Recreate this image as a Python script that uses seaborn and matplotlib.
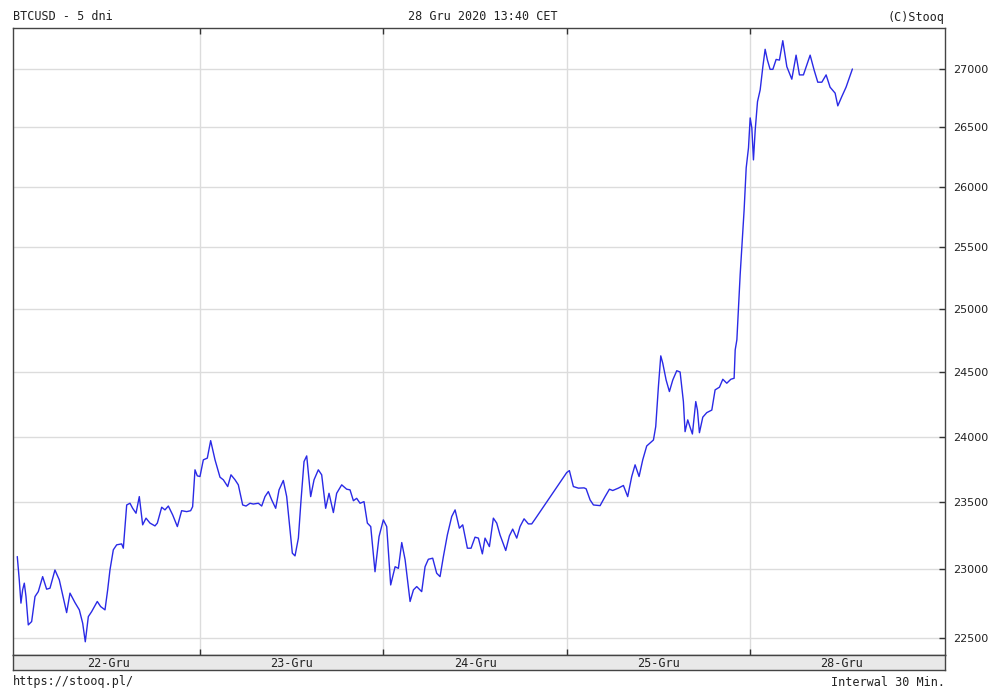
import numpy as np
import pandas as pd
import matplotlib
matplotlib.use("Agg")
import matplotlib.pyplot as plt
import seaborn as sns
from matplotlib.ticker import FixedLocator, FixedFormatter, NullLocator

sns.set_style("white")

# ---- data: hours since 22-Gru 00:00 (trading-day axis), BTCUSD price ----
hours = [
    0.08, 0.34, 0.56, 0.78, 1.00, 1.22, 1.52, 1.96, 2.40, 2.83, 3.40, 3.92, 4.36, 5.01, 5.58,
    6.54, 6.98, 7.63, 8.20, 8.64, 8.98, 9.38, 9.81, 10.55, 10.99, 11.56, 11.91, 12.21, 12.65,
    13.09, 13.74, 13.96, 14.18, 14.40, 14.83, 15.18, 15.62, 16.05, 16.49, 16.93, 17.45, 18.10,
    18.41, 18.98, 19.41, 19.85, 20.42, 21.03, 21.59, 22.25, 22.77, 23.03, 23.34, 23.64, 23.99,
    24.43, 24.95, 25.39, 25.96, 26.61, 27.05, 27.62, 28.05, 28.58, 29.01, 29.58, 30.02, 30.54,
    30.97, 31.63, 32.07, 32.50, 32.94, 33.38, 33.90, 34.34, 34.90, 35.34, 35.78, 36.08, 36.43,
    36.87, 37.22, 37.61, 37.96, 38.48, 38.92, 39.48, 39.92, 40.44, 40.88, 41.45, 41.88, 42.54,
    43.19, 43.63, 44.07, 44.50, 44.94, 45.46, 45.90, 46.34, 46.90, 47.43, 47.99, 48.43, 48.95,
    49.53, 49.96, 50.40, 50.84, 51.49, 51.93, 52.36, 53.01, 53.45, 53.88, 54.45, 54.97, 55.41,
    55.85, 56.37, 56.94, 57.38, 57.94, 58.38, 58.99, 59.47, 59.99, 60.43, 60.95, 61.30, 61.87,
    62.39, 62.83, 63.26, 64.01, 64.49, 64.92, 65.45, 65.88, 66.41, 66.97, 67.41, 67.84,
    71.99, 72.34, 72.86, 73.52, 74.26, 74.53, 75.05, 75.49, 76.36, 77.01, 77.58,
    78.01, 78.75, 79.41, 79.97, 80.50, 80.94, 81.46, 81.94, 82.46, 83.34, 83.64, 83.99, 84.30,
    84.56, 85.00, 85.43, 85.87, 86.39, 86.83, 87.26, 87.48, 87.83, 88.14, 88.44, 88.88, 89.10,
    89.36, 89.80, 90.32, 90.98, 91.41, 91.98, 92.42, 92.94, 93.47, 93.90, 94.04, 94.26, 94.69,
    95.21, 95.48, 95.78, 96.00, 96.22, 96.43, 96.66, 96.96, 97.31, 97.66, 97.96, 98.26, 98.61,
    98.97, 99.40, 99.83, 100.27, 100.80, 101.45, 102.01, 102.45, 102.97, 103.85, 104.37,
    104.85, 105.38, 105.94, 106.46, 107.12, 107.47, 107.99, 108.55, 109.38,
]
prices = [
    23095, 22923, 22753, 22850, 22899, 22801, 22595, 22619, 22801, 22837, 22947, 22855, 22862, 22996, 22923,
    22684, 22826, 22757, 22704, 22607, 22473, 22655, 22691, 22765, 22728, 22704, 22850, 22996, 23145,
    23182, 23189, 23157, 23318, 23480, 23493, 23455, 23418, 23543, 23331, 23381, 23344, 23323,
    23344, 23463, 23443, 23472, 23405, 23318, 23437, 23430, 23437, 23467, 23746, 23700, 23695,
    23822, 23835, 23969, 23822, 23690, 23670, 23619, 23708, 23670, 23632, 23480, 23472, 23493,
    23487, 23493, 23472, 23543, 23581, 23518, 23455, 23594, 23665, 23543, 23294, 23120, 23100,
    23232, 23518, 23809, 23852, 23543, 23670, 23746, 23708, 23455, 23568, 23423, 23568, 23632,
    23599, 23594, 23512, 23530, 23493, 23505, 23344, 23318, 22983, 23244, 23368, 23318, 22886,
    23020, 23008, 23199, 23071, 22765, 22850, 22874, 22837, 23020, 23075, 23083, 22972, 22947,
    23095, 23256, 23393, 23443, 23306, 23331, 23157, 23157, 23239, 23232, 23115, 23232, 23169,
    23381, 23344, 23256, 23140, 23249, 23299, 23232, 23318, 23376, 23338, 23338, 23373,
    23725, 23740, 23619, 23607, 23609, 23602, 23518, 23480, 23475, 23543, 23599,
    23589, 23607, 23627, 23543, 23695, 23784, 23695, 23822, 23928, 23974, 24077, 24387, 24629,
    24571, 24439, 24349, 24439, 24512, 24502, 24271, 24038, 24129, 24072, 24020, 24271, 24205,
    24030, 24150, 24185, 24205, 24362, 24383, 24445, 24414, 24445, 24453, 24676, 24756, 25277,
    25809, 26158, 26326, 26580, 26494, 26225, 26477, 26719, 26820, 27020, 27171, 27077, 26997,
    26997, 27083, 27077, 27246, 27020, 26912, 27120, 26949, 26949, 27120, 26991,
    26886, 26886, 26949, 26843, 26792, 26683, 26762, 26843, 27000,
]
day_labels = ["22-Gru", "23-Gru", "24-Gru", "25-Gru", "28-Gru"]
day_bounds = [24, 48, 72, 96]
y_ticks = [22500, 23000, 23500, 24000, 24500, 25000, 25500, 26000, 26500, 27000]

df = pd.DataFrame({"t": hours, "price": prices})

fig = plt.figure(figsize=(10, 7), dpi=100)
ax = fig.add_axes([0.013, 1 - 655 / 700, 0.932, (655 - 28) / 700])

sns.lineplot(data=df, x="t", y="price", ax=ax, color="#2a2ae6", linewidth=1.0)

ax.set_yscale("log")
ax.set_xlim(-0.48, 121.5)
ax.set_ylim(22378, 27357)
ax.yaxis.set_major_locator(FixedLocator(y_ticks))
ax.yaxis.set_major_formatter(FixedFormatter([str(v) for v in y_ticks]))
ax.yaxis.set_minor_locator(NullLocator())
ax.xaxis.set_major_locator(FixedLocator(day_bounds))
ax.xaxis.set_minor_locator(NullLocator())

ax.yaxis.tick_right()
ax.tick_params(axis="y", which="both", left=False, right=True, direction="in", length=4,
               width=1, color="#333333", labelsize=8, labelcolor="#222222", pad=6)
ax.tick_params(axis="x", top=True, bottom=True, direction="in", length=4, width=1,
               color="#333333", labelbottom=False, labeltop=False)
ax.grid(True, color="#dcdcdc", linewidth=1)
ax.set_xlabel("")
ax.set_ylabel("")
for s in ax.spines.values():
    s.set_color("#444444")
    s.set_linewidth(1)

# date band under the plot
band = fig.add_axes([0.013, 1 - 670 / 700, 0.932, 15 / 700])
band.set_facecolor("#e9e9e9")
band.set_xlim(ax.get_xlim())
band.set_ylim(0, 1)
band.set_xticks([])
band.set_yticks([])
for s in band.spines.values():
    s.set_color("#444444")
    s.set_linewidth(1)
for i, lab in enumerate(day_labels):
    band.text(12 + 24 * i, 0.45, lab, ha="center", va="center", fontsize=8.5,
              family="DejaVu Sans Mono", color="#222222")

mono = dict(family="DejaVu Sans Mono", fontsize=8.5, color="#222222")
fig.text(0.013, 1 - 17 / 700, "BTCUSD - 5 dni", ha="left", va="center", **mono)
fig.text(0.483, 1 - 17 / 700, "28 Gru 2020 13:40 CET", ha="center", va="center", **mono)
fig.text(0.945, 1 - 17 / 700, "(C)Stooq", ha="right", va="center", **mono)
fig.text(0.013, 1 - 682 / 700, "https://stooq.pl/", ha="left", va="center", **mono)
fig.text(0.945, 1 - 682 / 700, "Interwal 30 Min.", ha="right", va="center", **mono)

fig.savefig("out.png", dpi=100, facecolor="white")
